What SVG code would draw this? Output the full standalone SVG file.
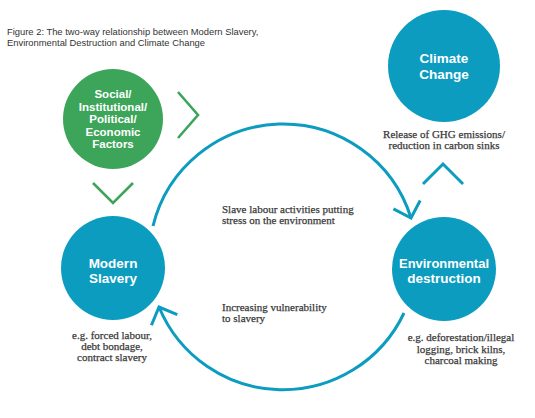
<svg xmlns="http://www.w3.org/2000/svg" width="535" height="418" viewBox="0 0 535 418">
<defs>
<style>
.title{font-family:"Liberation Sans",Arial,sans-serif;font-size:9.4px;fill:#333}
.node-teal{fill:#0b9cc0}
.node-green{fill:#3ca55a}
.nlabel{font-family:"Liberation Sans",Arial,sans-serif;font-weight:bold;fill:#fff;text-anchor:middle}
.note{font-family:"Liberation Serif","Times New Roman",serif;font-size:11px;fill:#3a3a3a;stroke:#3a3a3a;stroke-width:0.25}
.mid{text-anchor:middle}
.flow{fill:none;stroke:#0b9cc0;stroke-width:3}
.gchev{fill:none;stroke:#3ca55a;stroke-width:2.6}
.tchev{fill:none;stroke:#0b9cc0;stroke-width:3}
</style>
<marker id="head" markerUnits="userSpaceOnUse" orient="auto" markerWidth="40" markerHeight="40" refX="0" refY="0" viewBox="-20 -20 40 40" overflow="visible">
<path d="M-14,-14 L0,0 L-14,14" fill="none" stroke="#0b9cc0" stroke-width="3"/>
</marker>
</defs>
<rect width="535" height="418" fill="#fff"/>

<g id="title">
<text class="title" x="7" y="35">Figure 2: The two-way relationship between Modern Slavery,</text>
<text class="title" x="7" y="46">Environmental Destruction and Climate Change</text>
</g>

<g id="connectors">
<path id="arc-slavery-to-env" class="flow" d="M153,226 A134,134 0 0 1 411,218" marker-end="url(#head)"/>
<path id="arc-env-to-slavery" class="flow" d="M404,313 A134,134 0 0 1 159,307" marker-end="url(#head)"/>
<path id="chev-factors-right" class="gchev" d="M178,92 L198,115 L178,138"/>
<path id="chev-factors-down" class="gchev" d="M93,183 L113,203 L133,183"/>
<path id="chev-env-to-climate" class="tchev" d="M423,184 L443,164 L463,184"/>
</g>

<g id="node-factors">
<circle class="node-green" cx="113" cy="119" r="50"/>
<text class="nlabel" font-size="11.5"><tspan x="113" y="98">Social/</tspan><tspan x="113" y="110.5">Institutional/</tspan><tspan x="113" y="123">Political/</tspan><tspan x="113" y="135.5">Economic</tspan><tspan x="113" y="148">Factors</tspan></text>
</g>

<g id="node-climate">
<circle class="node-teal" cx="444" cy="66" r="56"/>
<text class="nlabel" font-size="13.5"><tspan x="444" y="63">Climate</tspan><tspan x="444" y="79">Change</tspan></text>
<text class="note mid"><tspan x="444" y="138">Release of GHG emissions/</tspan><tspan x="444" y="149">reduction in carbon sinks</tspan></text>
</g>

<g id="node-slavery">
<circle class="node-teal" cx="113" cy="268" r="52"/>
<text class="nlabel" font-size="13.5"><tspan x="113" y="268">Modern</tspan><tspan x="113" y="283">Slavery</tspan></text>
<text class="note mid"><tspan x="112" y="339">e.g. forced labour,</tspan><tspan x="112" y="350">debt bondage,</tspan><tspan x="112" y="361">contract slavery</tspan></text>
</g>

<g id="node-env">
<circle class="node-teal" cx="444" cy="269" r="52"/>
<text class="nlabel" font-size="13.5"><tspan x="444" y="268" textLength="90" lengthAdjust="spacingAndGlyphs">Environmental</tspan><tspan x="444" y="283">destruction</tspan></text>
<text class="note mid"><tspan x="461" y="341">e.g. deforestation/illegal</tspan><tspan x="461" y="352.5">logging, brick kilns,</tspan><tspan x="461" y="364">charcoal making</tspan></text>
</g>

<g id="labels">
<text class="note"><tspan x="222" y="213">Slave labour activities putting</tspan><tspan x="222" y="224">stress on the environment</tspan></text>
<text class="note"><tspan x="222" y="310.5">Increasing vulnerability</tspan><tspan x="222" y="321.5">to slavery</tspan></text>
</g>
</svg>
